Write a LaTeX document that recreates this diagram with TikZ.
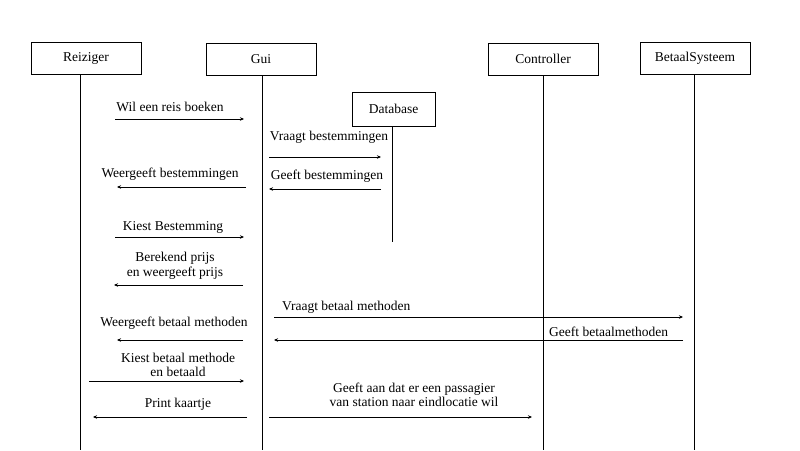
\documentclass[tikz,border=0pt]{standalone}
\usepackage{fontspec}
\setmainfont{Liberation Serif}
\usetikzlibrary{arrows.meta}
\begin{document}
\begin{tikzpicture}[x=1pt,y=-1pt,
  actor/.style={draw,line width=0.8pt,minimum height=32pt,inner sep=0pt,font=\fontsize{13.5}{15}\selectfont},
  life/.style={line width=0.8pt},
  msg/.style={line width=0.8pt,-{Stealth[length=4pt,width=3.5pt]}},
  lbl/.style={inner sep=0pt,font=\fontsize{13.5}{14.5}\selectfont,align=center}]
\useasboundingbox[fill=white] (0,0) rectangle (800,450);
% actors
\node[actor,minimum width=110pt] (rei) at (86,58) {Reiziger};
\node[actor,minimum width=110pt] (gui) at (261,59) {Gui};
\node[actor,minimum width=83pt,minimum height=34pt] (db) at (393.5,109) {Database};
\node[actor,minimum width=110pt] (con) at (543,59) {Controller};
\node[actor,minimum width=110pt] (bet) at (695,58) {BetaalSysteem};
% lifeline ends
\coordinate (reiE) at (80,450);
\coordinate (guiE) at (262,450);
\coordinate (dbE) at (392,242);
\coordinate (conE) at (543,450);
\coordinate (betE) at (694,450);
\draw[life] (rei.south -| reiE) -- (reiE);
\draw[life] (gui.south -| guiE) -- (guiE);
\draw[life] (db.south -| dbE) -- (dbE);
\draw[life] (con.south -| conE) -- (conE);
\draw[life] (bet.south -| betE) -- (betE);
% message end points
\coordinate (a1) at (115,119); \coordinate (b1) at (244,119);
\coordinate (a2) at (269,157); \coordinate (b2) at (381,157);
\coordinate (a3) at (246,187); \coordinate (b3) at (117,187);
\coordinate (a4) at (381,189); \coordinate (b4) at (269,189);
\coordinate (a5) at (115,237); \coordinate (b5) at (244,237);
\coordinate (a6) at (243,285); \coordinate (b6) at (114,285);
\coordinate (a7) at (274,317); \coordinate (b7) at (683,317);
\coordinate (a8) at (683,340); \coordinate (b8) at (274,340);
\coordinate (a9) at (243,340); \coordinate (b9) at (117,340);
\coordinate (a10) at (89,381); \coordinate (b10) at (244,381);
\coordinate (a11) at (247,417); \coordinate (b11) at (93,417);
\coordinate (a12) at (269,417); \coordinate (b12) at (532,417);
\foreach \i in {1,...,12} {\draw[msg] (a\i) -- (b\i);}
% labels
\node[lbl] (l1) at (170,107) {Wil een reis boeken};
\node[lbl] (l2) at (329,137) {Vraagt bestemmingen};
\node[lbl] (l3) at (170,174) {Weergeeft bestemmingen};
\node[lbl] (l4) at (327,176) {Geeft bestemmingen};
\node[lbl] (l5) at (173,227) {Kiest Bestemming};
\node[lbl] (l6) at (175,266) {Berekend prijs\\en weergeeft prijs};
\node[lbl,anchor=west] (l7) at (282,307) {Vraagt betaal methoden};
\node[lbl,anchor=west] (l8) at (549,332) {Geeft betaalmethoden};
\node[lbl] (l9) at (174,323) {Weergeeft betaal methoden};
\node[lbl] (l10) at (178,365) {Kiest betaal methode\\en betaald};
\node[lbl] (l11) at (178,404) {Print kaartje};
\node[lbl] (l12) at (414,395) {Geeft aan dat er een passagier\\van station naar eindlocatie wil};
\end{tikzpicture}
\end{document}
